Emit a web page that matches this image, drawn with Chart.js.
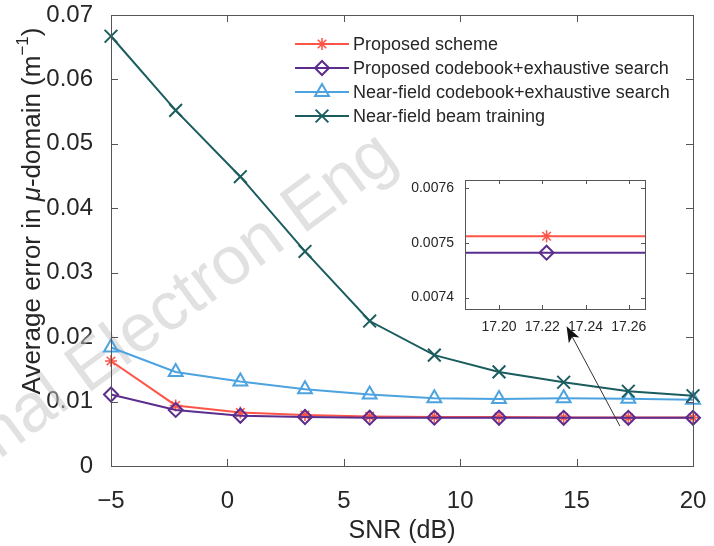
<!DOCTYPE html>
<html>
<head>
<meta charset="utf-8">
<script src="https://cdn.jsdelivr.net/npm/chart.js@4.4.0/dist/chart.umd.min.js"></script>
<style>
html,body{margin:0;padding:0;background:#fff;}
#wrap{position:relative;width:714px;height:546px;}
#main{position:absolute;left:0;top:0;}
#inset{position:absolute;left:405px;top:170px;}
</style>
</head>
<body>
<div id="wrap">
<canvas id="main" width="714" height="546"></canvas>
<canvas id="inset" width="250" height="175"></canvas>
</div>
<script>
// values
const snr = [-5, -2.222, 0.556, 3.333, 6.111, 8.889, 11.667, 14.444, 17.222, 20]
const proposedScheme = [0.0163, 0.0094, 0.0083, 0.0079, 0.0077, 0.0076, 0.0076, 0.00752, 0.007512, 0.00751]
const proposedCodebook = [0.0111, 0.0087, 0.0078, 0.0076, 0.0075, 0.0075, 0.00749, 0.00748, 0.007482, 0.00748]
const nearFieldCodebook = [0.0184, 0.0146, 0.0131, 0.0119, 0.0111, 0.0105, 0.0104, 0.0105, 0.01045, 0.0103]
const nearFieldTraining = [0.0667, 0.0552, 0.0449, 0.0333, 0.0225, 0.0172, 0.0146, 0.0130, 0.0116, 0.0109]

const seriesNames = ['Proposed scheme', 'Proposed codebook+exhaustive search',
  'Near-field codebook+exhaustive search', 'Near-field beam training']

const xTicks = [-5, 0, 5, 10, 15, 20]
const yTicks = [0, 0.01, 0.02, 0.03, 0.04, 0.05, 0.06, 0.07]
const yTickLabels = ['0', '0.01', '0.02', '0.03', '0.04', '0.05', '0.06', '0.07']
const insetXTicks = [17.20, 17.22, 17.24, 17.26]
const insetYTicks = [0.0074, 0.0075, 0.0076]
const insetYTickLabels = ['0.0074', '0.0075', '0.0076']

const fam = '"Liberation Sans", Arial, Helvetica, sans-serif'
const txt = '#262626'
const axisCol = '#555555'
const red = '#ff5548', purple = '#5b2d8e', blue = '#4ca3e0', teal = '#1b5d5e'

function pts(ys) { return snr.map((x, i) => ({ x: x, y: ys[i] })) }

function makeSets(clip) {
  return [
    { label: seriesNames[0], data: pts(proposedScheme), borderColor: red, borderWidth: 2,
      pointStyle: 'star', pointRadius: 6, pointBorderColor: red, pointBorderWidth: 1.6, order: 3 },
    { label: seriesNames[1], data: pts(proposedCodebook), borderColor: purple, borderWidth: 2,
      pointStyle: 'rectRot', pointRadius: 7, pointBorderColor: purple, pointBorderWidth: 2, order: 2 },
    { label: seriesNames[2], data: pts(nearFieldCodebook), borderColor: blue, borderWidth: 2,
      pointStyle: 'triangle', pointRadius: 8, pointBorderColor: blue, pointBorderWidth: 2, order: 1 },
    { label: seriesNames[3], data: pts(nearFieldTraining), borderColor: teal, borderWidth: 2,
      pointStyle: 'crossRot', pointRadius: 9, pointBorderColor: teal, pointBorderWidth: 2, order: 0 }
  ].map(d => Object.assign(d, { pointBackgroundColor: 'rgba(0,0,0,0)', tension: 0, fill: false, clip: clip }))
}

// box round the plot, ticks pointing inwards on all four sides
const boxAxes = {
  id: 'boxAxes',
  beforeDatasetsDraw(chart, args, opts) {
    if (!opts.white) return
    const a = chart.chartArea, ctx = chart.ctx
    ctx.save()
    ctx.fillStyle = '#fff'
    ctx.fillRect(a.left, a.top, a.right - a.left, a.bottom - a.top)
    ctx.restore()
  },
  afterDatasetsDraw(chart, args, opts) {
    const { ctx, chartArea: a } = chart
    const x = chart.scales.x, y = chart.scales.y
    const len = opts.len || 7
    ctx.save()
    ctx.strokeStyle = axisCol
    ctx.lineWidth = 1
    ctx.beginPath()
    x.ticks.forEach(t => {
      const px = Math.round(x.getPixelForValue(t.value)) + 0.5
      ctx.moveTo(px, a.bottom); ctx.lineTo(px, a.bottom - len)
      ctx.moveTo(px, a.top); ctx.lineTo(px, a.top + len)
    })
    y.ticks.forEach(t => {
      const py = Math.round(y.getPixelForValue(t.value)) + 0.5
      ctx.moveTo(a.left, py); ctx.lineTo(a.left + len, py)
      ctx.moveTo(a.right, py); ctx.lineTo(a.right - len, py)
    })
    ctx.stroke()
    ctx.strokeRect(Math.round(a.left) + 0.5, Math.round(a.top) + 0.5,
      Math.round(a.right - a.left), Math.round(a.bottom - a.top))
    ctx.restore()
  }
}

// watermark, y title, legend and arrow of the main plot
const extras = {
  id: 'extras',
  beforeDatasetsDraw(chart) {
    const ctx = chart.ctx
    ctx.save()
    ctx.translate(400, 163)
    ctx.rotate(-36.5 * Math.PI / 180)
    ctx.font = '68px ' + fam
    ctx.fillStyle = 'rgba(195,195,195,0.5)'
    ctx.textAlign = 'right'
    ctx.textBaseline = 'alphabetic'
    ctx.fillText('nal Electron Eng', 0, 0)
    ctx.restore()
  },
  afterDraw(chart) {
    const ctx = chart.ctx
    const x = chart.scales.x, y = chart.scales.y

    // y axis title with italic mu and superscript
    const parts = [
      { t: 'Average error in ', f: '26px ' + fam, dy: 0 },
      { t: '\u03bc', f: 'italic 26px ' + fam, dy: 0 },
      { t: '-domain (m', f: '26px ' + fam, dy: 0 },
      { t: '\u22121', f: '17px ' + fam, dy: -10 },
      { t: ')', f: '26px ' + fam, dy: 0 }
    ]
    ctx.save()
    let total = 0
    parts.forEach(p => { ctx.font = p.f; p.w = ctx.measureText(p.t).width; total += p.w })
    ctx.translate(33, 211)
    ctx.rotate(-Math.PI / 2)
    ctx.fillStyle = txt
    ctx.textBaseline = 'middle'
    let cx = -total / 2
    parts.forEach(p => { ctx.font = p.f; ctx.fillText(p.t, cx, p.dy); cx += p.w })
    ctx.restore()

    // legend
    ctx.save()
    chart.data.datasets.forEach((ds, i) => {
      const ly = 44 + i * 24
      ctx.strokeStyle = ds.borderColor
      ctx.lineWidth = ds.borderWidth
      ctx.beginPath(); ctx.moveTo(295, ly); ctx.lineTo(349, ly); ctx.stroke()
      ctx.fillStyle = 'rgba(0,0,0,0)'
      ctx.strokeStyle = ds.pointBorderColor
      ctx.lineWidth = ds.pointBorderWidth
      Chart.helpers.drawPoint(ctx, { pointStyle: ds.pointStyle, radius: ds.pointRadius, rotation: 0,
        borderWidth: ds.pointBorderWidth }, 322, ly)
      ctx.fillStyle = txt
      ctx.font = '18px ' + fam
      ctx.textBaseline = 'middle'
      ctx.fillText(ds.label, 353, ly + 1)
    })
    ctx.restore()

    // arrow pointing at the inset
    const x0 = x.getPixelForValue(16.86), y0 = y.getPixelForValue(0.0062)
    const x1 = x.getPixelForValue(14.57), y1 = y.getPixelForValue(0.0217)
    const ang = Math.atan2(y1 - y0, x1 - x0)
    ctx.save()
    ctx.strokeStyle = '#333'
    ctx.fillStyle = '#111'
    ctx.lineWidth = 1
    ctx.beginPath(); ctx.moveTo(x0, y0)
    ctx.lineTo(x1 - 10 * Math.cos(ang), y1 - 10 * Math.sin(ang)); ctx.stroke()
    ctx.translate(x1, y1); ctx.rotate(ang)
    ctx.beginPath(); ctx.moveTo(0, 0); ctx.lineTo(-16, -6); ctx.lineTo(-12, 0); ctx.lineTo(-16, 6)
    ctx.closePath(); ctx.fill()
    ctx.restore()
  }
}

function fixX(h) { return s => { s.height = h; s.paddingLeft = 0; s.paddingRight = 0 } }
function fixY(w) { return s => { s.width = w; s.paddingTop = 0; s.paddingBottom = 0 } }

const mainChart = new Chart(document.getElementById('main'), {
  type: 'line',
  data: { datasets: makeSets(false) },
  options: {
    responsive: false,
    animation: false,
    events: [],
    layout: { padding: { top: 15, right: 21, left: 0, bottom: 0 } },
    plugins: { legend: { display: false }, tooltip: { enabled: false }, boxAxes: { len: 7, white: false } },
    scales: {
      x: {
        type: 'linear', min: -5, max: 20,
        afterBuildTicks: s => { s.ticks = xTicks.map(v => ({ value: v })) },
        afterFit: fixX(80),
        grid: { display: false }, border: { display: false },
        ticks: { font: { size: 24, family: fam }, color: txt, padding: 13, maxRotation: 0,
          callback: v => v < 0 ? '\u2212' + Math.abs(v) : String(v) },
        title: { display: true, text: 'SNR (dB)', font: { size: 25, family: fam }, color: txt,
          padding: { top: 0, bottom: 0 } }
      },
      y: {
        type: 'linear', min: 0, max: 0.07,
        afterBuildTicks: s => { s.ticks = yTicks.map(v => ({ value: v })) },
        afterFit: fixY(111),
        grid: { display: false }, border: { display: false },
        ticks: { font: { size: 24, family: fam }, color: txt, padding: 10,
          callback: (v, i) => yTickLabels[i] }
      }
    }
  },
  plugins: [boxAxes, extras]
})

// zoomed inset around SNR = 17.22 dB
const insetChart = new Chart(document.getElementById('inset'), {
  type: 'line',
  data: { datasets: makeSets(undefined).slice(0, 2) },
  options: {
    responsive: false,
    animation: false,
    events: [],
    layout: { padding: { top: 10, right: 10, left: 0, bottom: 0 } },
    plugins: { legend: { display: false }, tooltip: { enabled: false }, boxAxes: { len: 4, white: true } },
    scales: {
      x: {
        type: 'linear', min: 17.1843, max: 17.2675,
        afterBuildTicks: s => { s.ticks = insetXTicks.map(v => ({ value: v })) },
        afterFit: fixX(36),
        grid: { display: false }, border: { display: false },
        ticks: { font: { size: 14, family: fam }, color: txt, padding: 2, maxRotation: 0,
          callback: v => v.toFixed(2) }
      },
      y: {
        type: 'linear', min: 0.007379, max: 0.007615,
        afterBuildTicks: s => { s.ticks = insetYTicks.map(v => ({ value: v })) },
        afterFit: fixY(60),
        grid: { display: false }, border: { display: false },
        ticks: { font: { size: 14, family: fam }, color: txt, padding: 3,
          callback: (v, i) => insetYTickLabels[i] }
      }
    }
  },
  plugins: [boxAxes]
})
</script>
</body>
</html>
